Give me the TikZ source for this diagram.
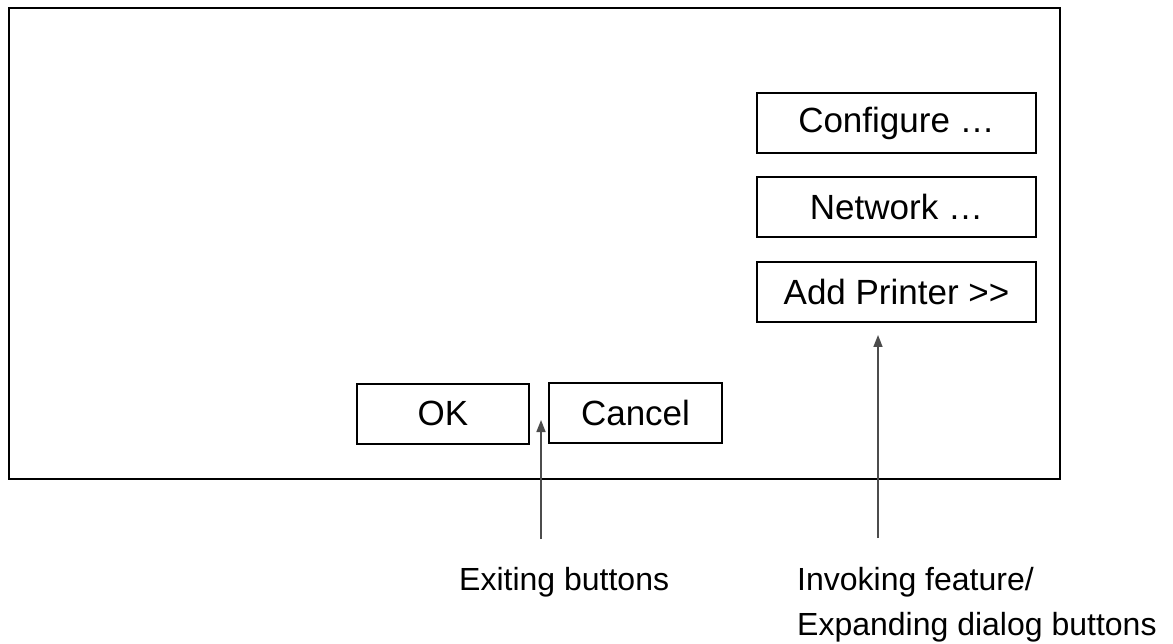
\documentclass[tikz,border=0pt]{standalone}
\usepackage{fontspec}
\setmainfont{Liberation Sans}
\usetikzlibrary{arrows.meta}
\tikzset{
button/.style={shape=rectangle, draw=black, line width=2pt, inner sep=0pt, minimum height=60pt, font=\fontsize{35}{45}\selectfont},
pointer/.style={draw=black!70, line width=1.6pt, -{Triangle[length=12pt,width=9pt]}},
caption/.style={inner sep=0pt, align=left, font=\fontsize{32}{45}\selectfont}
}
\begin{document}
\begin{tikzpicture}[x=1pt, y=-1pt]
\useasboundingbox (0,0) rectangle (1173,644);
\node[shape=rectangle, draw=black, line width=2pt, minimum width=1051pt, minimum height=471pt](dialog) at (534.5,243.5) {};
\node[button, minimum width=279pt](configure) at (896.5,123) {Configure \ldots};
\node[button, minimum width=279pt](network) at (896.5,207) {Network \ldots};
\node[button, minimum width=279pt](addprinter) at (896.5,292) {Add Printer {>}{>}};
\node[button, minimum width=172pt](ok) at (443,413.5) {OK};
\node[button, minimum width=173pt](cancel) at (635.5,413) {Cancel};
\node[caption, anchor=base west](exitlabel) at (459,590) {Exiting buttons};
\node[caption, anchor=north west](invokelabel) at (797,567) {Invoking feature/\\Expanding dialog buttons};
\coordinate (exitfoot) at (541,539);
\coordinate (exittip) at (541,420);
\coordinate (invokefoot) at (878,538);
\coordinate (invoketip) at (878,335);
\draw[pointer] (exitfoot) -- (exittip);
\draw[pointer] (invokefoot) -- (invoketip);
\end{tikzpicture}
\end{document}
